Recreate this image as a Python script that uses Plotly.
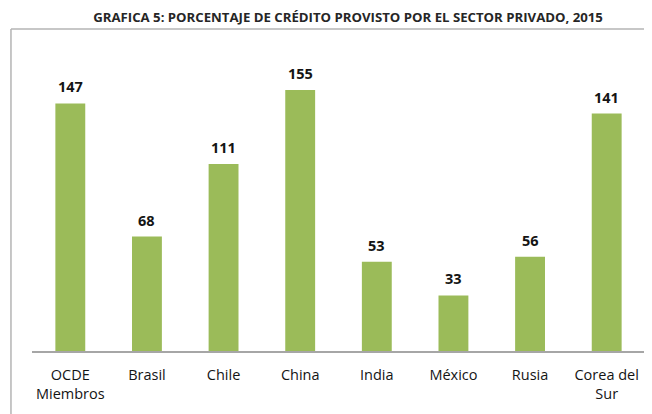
import plotly.graph_objects as go

countries = ["OCDE<br>Miembros", "Brasil", "Chile", "China", "India", "México", "Rusia", "Corea del<br>Sur"]
credit_pct = [147, 68, 111, 155, 53, 33, 56, 141]

BAR_GREEN = "#9BBB59"
TEXT_DARK = "#141414"
FONT = "Open Sans"

fig = go.Figure()
fig.add_trace(
    go.Bar(
        x=countries,
        y=credit_pct,
        marker_color=BAR_GREEN,
        marker_line=dict(width=0),
        hoverinfo="x+y",
    )
)

for c, v in zip(countries, credit_pct):
    fig.add_annotation(
        x=c,
        y=v,
        text=f"<b>{v}</b>",
        showarrow=False,
        yanchor="bottom",
        yshift=5,
        font=dict(family=FONT, size=14.5, color=TEXT_DARK),
    )

# thin frame around the chart area (top and left edges only visible)
fig.add_shape(type="line", xref="paper", yref="paper", x0=-0.0343, x1=1.02, y0=1.0354, y1=1.0354,
              line=dict(color="#B4B4B4", width=1.5))
fig.add_shape(type="line", xref="paper", yref="paper", x0=-0.0343, x1=-0.0343, y0=1.0354, y1=-0.21,
              line=dict(color="#B4B4B4", width=1.5))

# page body adds an 8px margin, so the figure is sized to fit the window
fig.update_layout(
    width=644,
    height=406,
    margin=dict(l=24, r=7, t=32, b=63),
    paper_bgcolor="white",
    plot_bgcolor="white",
    showlegend=False,
    bargap=0.61,
    font=dict(family=FONT, color=TEXT_DARK, size=14.5),
    title=dict(
        text="<b>GRAFICA 5: PORCENTAJE DE CRÉDITO PROVISTO POR EL SECTOR PRIVADO, 2015</b>",
        x=0.528,
        xanchor="center",
        y=0.977,
        yanchor="middle",
        font=dict(family=FONT, size=13.2, color="#262626"),
    ),
    xaxis=dict(
        showline=True,
        linecolor="#A6A6A6",
        linewidth=1.5,
        showgrid=False,
        ticks="",
        ticklabelstandoff=10,
        tickfont=dict(family=FONT, size=14.5, color=TEXT_DARK),
        fixedrange=True,
    ),
    yaxis=dict(
        range=[0, 184.7],
        visible=False,
        showgrid=False,
        zeroline=False,
        fixedrange=True,
    ),
)

fig.write_html("out.html")
